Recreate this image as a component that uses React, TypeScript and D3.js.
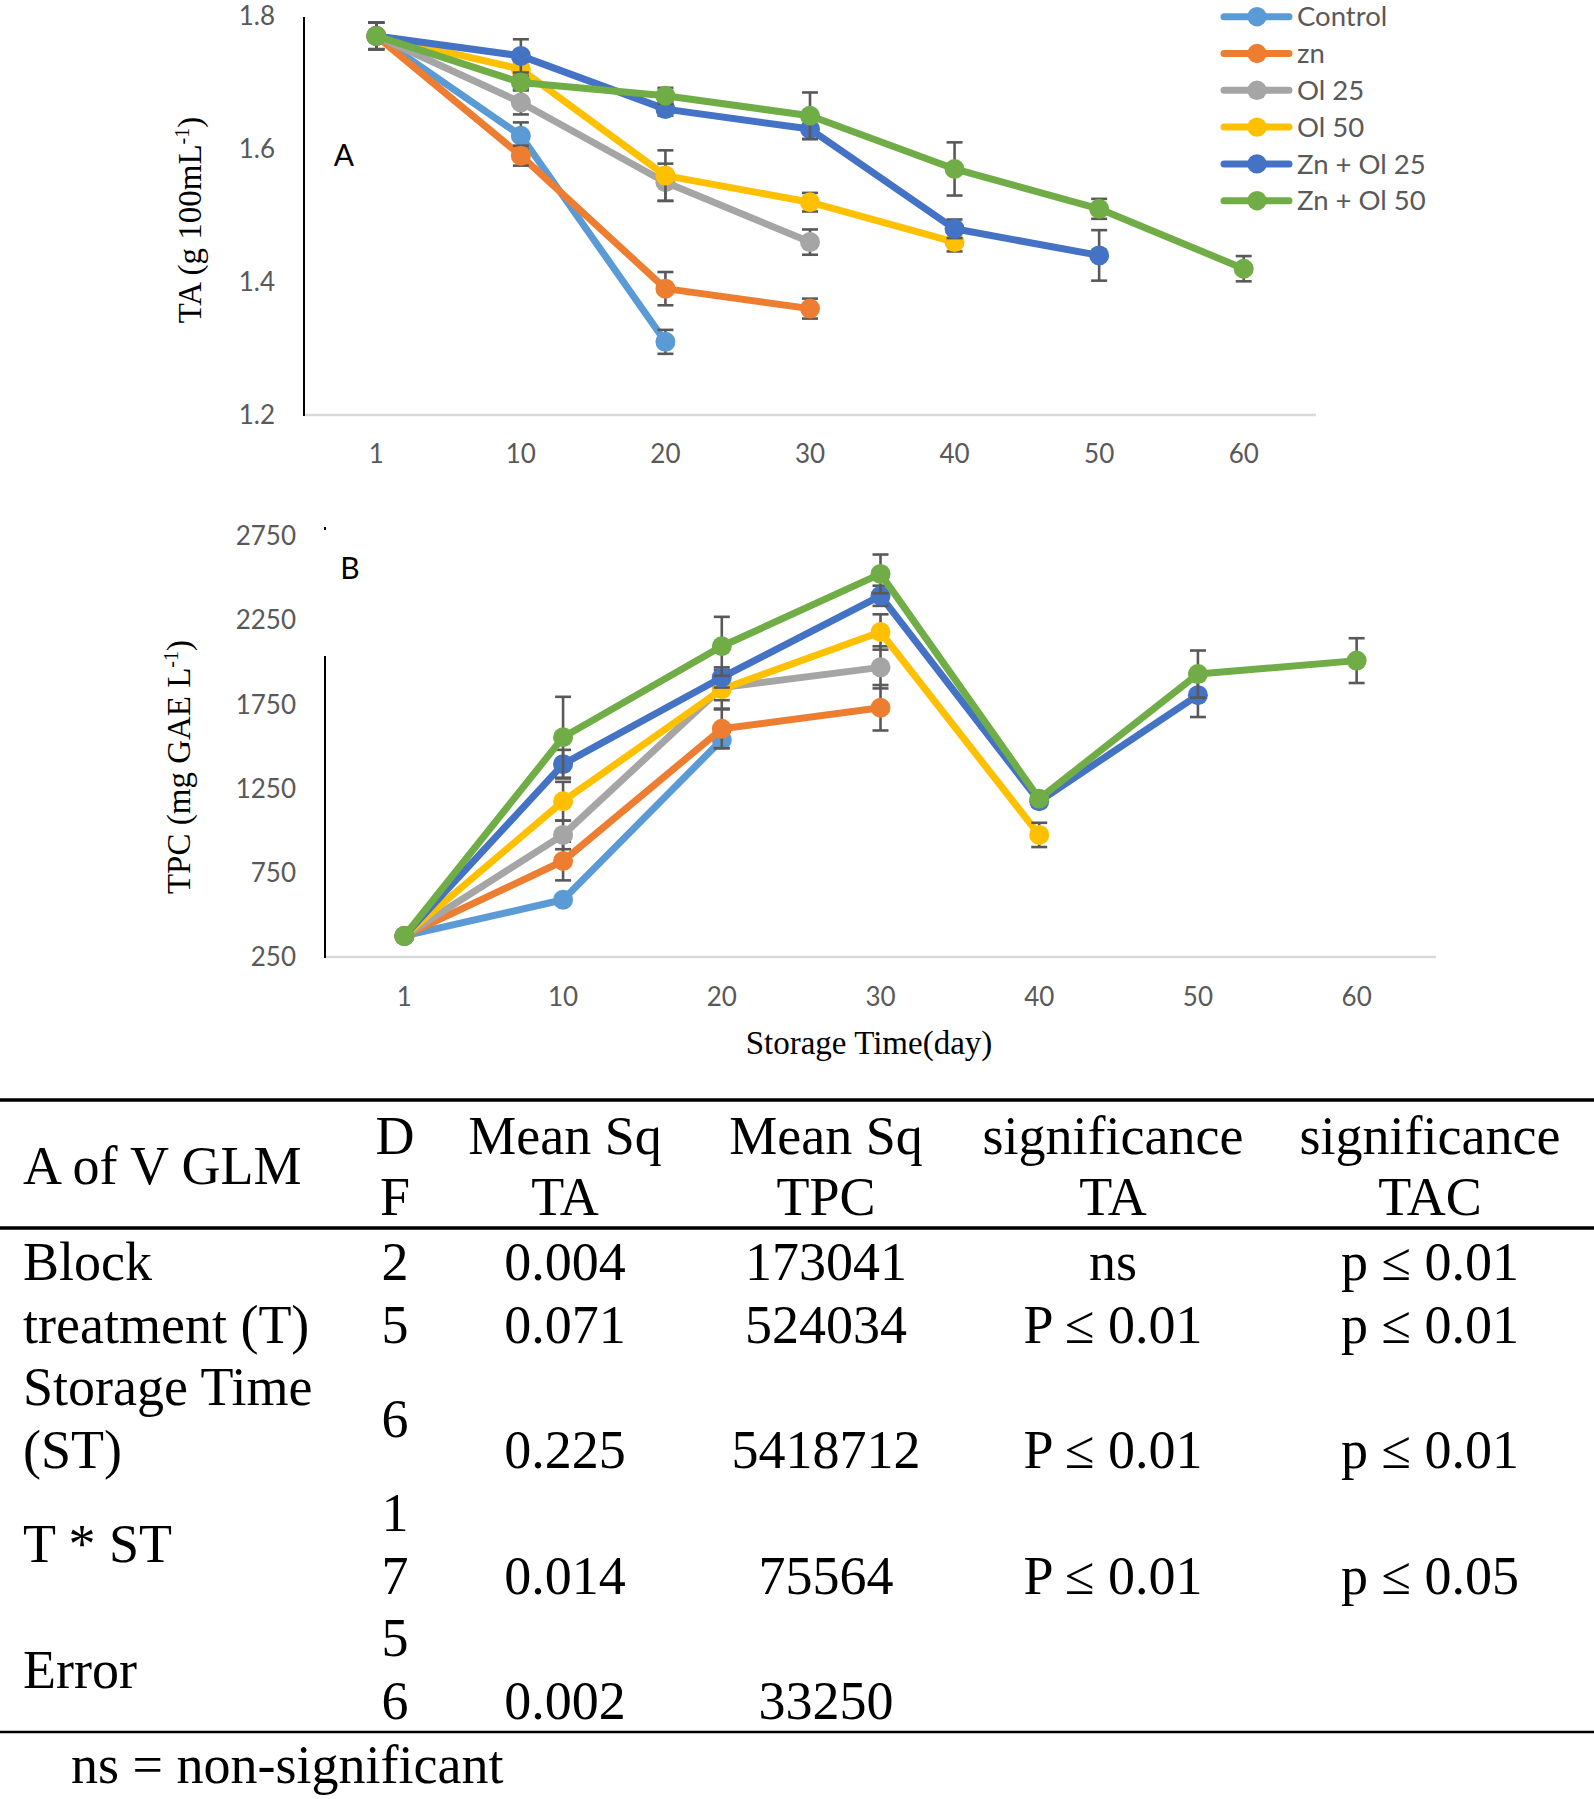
import React from 'react';
import * as d3 from 'd3';

// ---------- data ----------
const days = ['1', '10', '20', '30', '40', '50', '60'];
const seriesNames = ['Control', 'zn', 'Ol 25', 'Ol 50', 'Zn + Ol 25', 'Zn + Ol 50'];
const seriesColors = ['#5B9BD5', '#ED7D31', '#A5A5A5', '#FFC000', '#4472C4', '#70AD47'];

// Chart A: TA (g 100mL-1)
const taControl = [1.77, 1.62, 1.31];
const taZn = [1.77, 1.59, 1.39, 1.36];
const taOl25 = [1.77, 1.67, 1.55, 1.46];
const taOl50 = [1.77, 1.72, 1.56, 1.52, 1.46];
const taZnOl25 = [1.77, 1.74, 1.66, 1.63, 1.48, 1.44];
const taZnOl50 = [1.77, 1.70, 1.68, 1.65, 1.57, 1.51, 1.42];
const taErrControl = [0.02, 0.02, 0.018];
const taErrZn = [0.02, 0.015, 0.025, 0.015];
const taErrOl25 = [0.02, 0.018, 0.028, 0.019];
const taErrOl50 = [0.02, 0.01, 0.038, 0.014, 0.014];
const taErrZnOl25 = [0.02, 0.025, 0.01, 0.015, 0.014, 0.038];
const taErrZnOl50 = [0.02, 0.01, 0.012, 0.035, 0.04, 0.015, 0.019];
const taTicks = [1.2, 1.4, 1.6, 1.8];

// Chart B: TPC (mg GAE L-1)
const tpcControl = [375, 590, 1540];
const tpcZn = [375, 820, 1605, 1730];
const tpcOl25 = [375, 975, 1850, 1970];
const tpcOl50 = [375, 1175, 1840, 2180, 975];
const tpcZnOl25 = [375, 1395, 1910, 2395, 1175, 1805];
const tpcZnOl50 = [375, 1555, 2095, 2525, 1190, 1930, 2010];
const tpcErrControl = [20, 20, 50];
const tpcErrZn = [20, 115, 115, 135];
const tpcErrOl25 = [20, 85, 75, 125];
const tpcErrOl50 = [20, 115, 115, 105, 72];
const tpcErrZnOl25 = [20, 85, 60, 60, 30, 130];
const tpcErrZnOl50 = [20, 240, 175, 115, 30, 140, 133];
const tpcTicks = [250, 750, 1250, 1750, 2250, 2750];

// ANOVA table
const tableHeadLeft = 'A of V GLM';
const tableHead = [
  ['D', 'F'],
  ['Mean Sq', 'TA'],
  ['Mean Sq', 'TPC'],
  ['significance', 'TA'],
  ['significance', 'TAC'],
];
const sourceLines = [['Block'], ['treatment (T)'], ['Storage Time', '(ST)'], ['T * ST'], ['Error']];
const rowSpans = [1, 1, 2, 2, 2];
const dfValues = ['2', '5', '6', '17', '56'];
const msTA = ['0.004', '0.071', '0.225', '0.014', '0.002'];
const msTPC = ['173041', '524034', '5418712', '75564', '33250'];
const sigTA = ['ns', 'P ≤ 0.01', 'P ≤ 0.01', 'P ≤ 0.01', ''];
const sigTAC = ['p ≤ 0.01', 'p ≤ 0.01', 'p ≤ 0.01', 'p ≤ 0.05', ''];
const tableNote = 'ns = non-significant';

// ---------- styles ----------
const W = 1594;
const H = 1799;
const tickFont = 'Lato, "Open Sans", sans-serif';
const serif = '"Liberation Serif", "Times New Roman", serif';
const tickColor = '#595959';
const errColor = '#595959';
const lineW = 7;
const markerR = 10;

type Series = { name: string; color: string; values: number[]; errs: number[] };

function LinePanel(props: {
  series: Series[];
  x0: number; x1: number;
  yTop: number; yBottom: number;
  domain: [number, number];
  ticks: number[];
  tickFmt: (v: number) => string;
  tickRight: number;
  xLabelY: number;
  axisTop: number;
  panelLabel: string; panelLabelX: number; panelLabelY: number;
  titleMain: string; titleX: number; titleY: number;
}) {
  const x = d3.scalePoint<string>().domain(days).range([props.x0, props.x1]).padding(0.5);
  const y = d3.scaleLinear().domain(props.domain).range([props.yBottom, props.yTop]);
  const line = d3.line<number>().x((_, i) => x(days[i]) as number).y((v) => y(v));
  const cap = 8;
  return (
    <g>
      {/* baseline */}
      <line x1={props.x0} x2={props.x1} y1={y(props.domain[0])} y2={y(props.domain[0])} stroke="#D9D9D9" strokeWidth={2.5} />
      {/* vertical axis */}
      <line x1={props.x0} x2={props.x0} y1={props.axisTop} y2={y(props.domain[0]) + 1} stroke="#000" strokeWidth={2} />
      {props.ticks.map((t) => (
        <text key={t} x={props.tickRight} y={y(t)} dy="0.35em" textAnchor="end" fontFamily={tickFont} fontSize={26} fill={tickColor}>
          {props.tickFmt(t)}
        </text>
      ))}
      {days.map((d) => (
        <text key={d} x={x(d)} y={props.xLabelY} dy="0.35em" textAnchor="middle" fontFamily={tickFont} fontSize={26} fill={tickColor}>
          {d}
        </text>
      ))}
      {props.series.map((s) => (
        <g key={s.name}>
          <path d={line(s.values) || ''} fill="none" stroke={s.color} strokeWidth={lineW} strokeLinejoin="round" strokeLinecap="round" />
          {s.values.map((v, i) => {
            const cx = x(days[i]) as number;
            const e = s.errs[i];
            return (
              <g key={i} stroke={errColor} strokeWidth={2.6}>
                <line x1={cx} x2={cx} y1={y(v - e)} y2={y(v + e)} />
                <line x1={cx - cap} x2={cx + cap} y1={y(v - e)} y2={y(v - e)} />
                <line x1={cx - cap} x2={cx + cap} y1={y(v + e)} y2={y(v + e)} />
              </g>
            );
          })}
          {s.values.map((v, i) => (
            <circle key={'m' + i} cx={x(days[i]) as number} cy={y(v)} r={markerR} fill={s.color} />
          ))}
        </g>
      ))}
      <text x={props.panelLabelX} y={props.panelLabelY} dy="0.35em" textAnchor="middle" fontFamily={tickFont} fontSize={30} fill="#000">
        {props.panelLabel}
      </text>
      <text
        transform={`translate(${props.titleX},${props.titleY}) rotate(-90)`}
        textAnchor="middle"
        dy="0.35em"
        fontFamily={serif}
        fontSize={33}
        fill="#000"
      >
        {props.titleMain}
        <tspan fontSize={20} dy="-12">-1</tspan>
        <tspan dy="12">)</tspan>
      </text>
    </g>
  );
}

export default function App() {
  const taVals = [taControl, taZn, taOl25, taOl50, taZnOl25, taZnOl50];
  const taErrs = [taErrControl, taErrZn, taErrOl25, taErrOl50, taErrZnOl25, taErrZnOl50];
  const tpcVals = [tpcControl, tpcZn, tpcOl25, tpcOl50, tpcZnOl25, tpcZnOl50];
  const tpcErrs = [tpcErrControl, tpcErrZn, tpcErrOl25, tpcErrOl50, tpcErrZnOl25, tpcErrZnOl50];
  const seriesA: Series[] = seriesNames.map((n, i) => ({ name: n, color: seriesColors[i], values: taVals[i], errs: taErrs[i] }));
  const seriesB: Series[] = seriesNames.map((n, i) => ({ name: n, color: seriesColors[i], values: tpcVals[i], errs: tpcErrs[i] }));

  // table layout
  const colX = [395, 565, 826, 1113, 1430];
  const tFont = 54;
  const slot0 = 1280;
  const slotStep = 62.7;
  const rowStart: number[] = [];
  let acc = 0;
  rowSpans.forEach((s) => { rowStart.push(acc); acc += s; });
  const slotY = (s: number) => slot0 + s * slotStep;

  return (
    <div style={{ position: 'absolute', left: 0, top: 0 }}>
      <svg width={W} height={H} style={{ display: 'block', background: '#fff' }}>
        <rect width={W} height={H} fill="#fff" />
        <LinePanel
          series={seriesA}
          x0={304} x1={1316} yTop={16} yBottom={415}
          domain={[1.2, 1.8]} ticks={taTicks} tickFmt={d3.format('.1f')}
          tickRight={275} xLabelY={454} axisTop={17}
          panelLabel="A" panelLabelX={344} panelLabelY={155}
          titleMain="TA (g 100mL" titleX={189} titleY={220}
        />
        {/* legend */}
        {seriesNames.map((n, i) => {
          const ly = 16.7 + i * 36.8;
          return (
            <g key={n}>
              <line x1={1224} x2={1289} y1={ly} y2={ly} stroke={seriesColors[i]} strokeWidth={lineW} strokeLinecap="round" />
              <circle cx={1257} cy={ly} r={9.7} fill={seriesColors[i]} />
              <text x={1297} y={ly} dy="0.35em" fontFamily={tickFont} fontSize={27.5} fill={tickColor}>{n}</text>
            </g>
          );
        })}
        <LinePanel
          series={seriesB}
          x0={325} x1={1436} yTop={536} yBottom={957}
          domain={[250, 2750]} ticks={tpcTicks} tickFmt={d3.format('d')}
          tickRight={296} xLabelY={997} axisTop={656}
          panelLabel="B" panelLabelX={350} panelLabelY={568}
          titleMain="TPC (mg GAE L" titleX={178} titleY={767}
        />
        <rect x={324} y={527} width={2} height={3} fill="#000" />
        <text x={869} y={1042} dy="0.35em" textAnchor="middle" fontFamily={serif} fontSize={33} fill="#000">
          Storage Time(day)
        </text>

        {/* table */}
        <line x1={0} x2={W} y1={1100} y2={1100} stroke="#000" strokeWidth={3.5} />
        <line x1={0} x2={W} y1={1228} y2={1228} stroke="#000" strokeWidth={3.5} />
        <line x1={0} x2={W} y1={1732} y2={1732} stroke="#000" strokeWidth={2.3} />
        <g fontFamily={serif} fontSize={tFont} fill="#000">
          <text x={23} y={1184}>{tableHeadLeft}</text>
          {tableHead.map((h, c) => (
            <g key={c}>
              <text x={colX[c]} y={1154} textAnchor="middle">{h[0]}</text>
              <text x={colX[c]} y={1215} textAnchor="middle">{h[1]}</text>
            </g>
          ))}
          {sourceLines.map((lines, r) => {
            const s0 = rowStart[r];
            const span = rowSpans[r];
            const last = s0 + span - 1;
            const labelEls = lines.length === span
              ? lines.map((t, k) => <text key={'l' + k} x={23} y={slotY(s0 + k)}>{t}</text>)
              : [<text key="l" x={23} y={slotY(s0 + (span - 1) / 2)}>{lines[0]}</text>];
            const df = dfValues[r];
            const dfEls = span > 1 && df.length === span
              ? df.split('').map((ch, k) => <text key={'d' + k} x={colX[0]} y={slotY(s0 + k)} textAnchor="middle">{ch}</text>)
              : [<text key="d" x={colX[0]} y={slotY(s0 + (span - 1) / 2)} textAnchor="middle">{df}</text>];
            return (
              <g key={r}>
                {labelEls}
                {dfEls}
                <text x={colX[1]} y={slotY(last)} textAnchor="middle">{msTA[r]}</text>
                <text x={colX[2]} y={slotY(last)} textAnchor="middle">{msTPC[r]}</text>
                <text x={colX[3]} y={slotY(last)} textAnchor="middle">{sigTA[r]}</text>
                <text x={colX[4]} y={slotY(last)} textAnchor="middle">{sigTAC[r]}</text>
              </g>
            );
          })}
          <text x={71} y={1783}>{tableNote}</text>
        </g>
      </svg>
    </div>
  );
}
